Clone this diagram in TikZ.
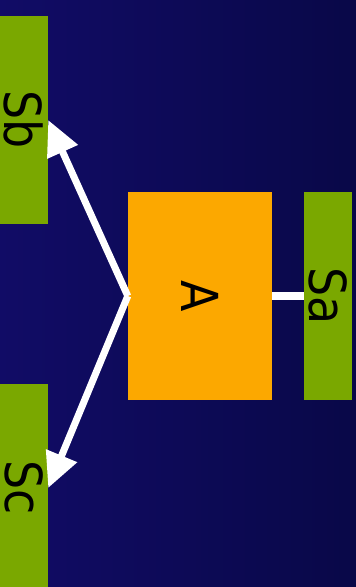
\documentclass[tikz,border=0pt]{standalone}
\usepackage{fontspec}
\setmainfont{DejaVu Sans Condensed}
\usepackage{tikz}
\usetikzlibrary{arrows.meta}
\usetikzlibrary{positioning}

\definecolor{bgleft}{RGB}{17,12,102}
\definecolor{bgright}{RGB}{9,8,72}
\definecolor{sgreen}{RGB}{122,168,0}
\definecolor{aorange}{RGB}{252,168,0}

\tikzset{
  sbox/.style={fill=sgreen, inner sep=0pt, minimum width=48pt, minimum height=208pt,
    font=\fontsize{51}{60}\selectfont},
  abox/.style={fill=aorange, inner sep=0pt, minimum width=144pt, minimum height=208pt,
    font=\fontsize{51}{60}\selectfont},
  link/.style={draw=white, line width=7pt},
  pointer/.style={link, -{Triangle[length=35pt, width=32pt]}}
}

\begin{document}
\begin{tikzpicture}[x=1pt, y=-1pt]
        \shade[left color=bgleft, right color=bgright] (0,0) rectangle (356,587);
        \useasboundingbox (0,0) rectangle (356,587);
        \node[abox] (a) at (200,296) {\rotatebox{-90}{A}};
        \node[sbox] (sa) at (328,296) {\rotatebox{-90}{Sa}};
        \node[sbox] (sb) at (24,120) {\rotatebox{-90}{Sb}};
        \node[sbox] (sc) at (24,488) {\rotatebox{-90}{Sc}};
        \draw[link, line width=8pt] (a.east) -- (sa.west);
        \draw[pointer] (a.west) -- (sb.east);
        \draw[pointer] (a.west) -- (sc.east);
      \end{tikzpicture}
\end{document}
